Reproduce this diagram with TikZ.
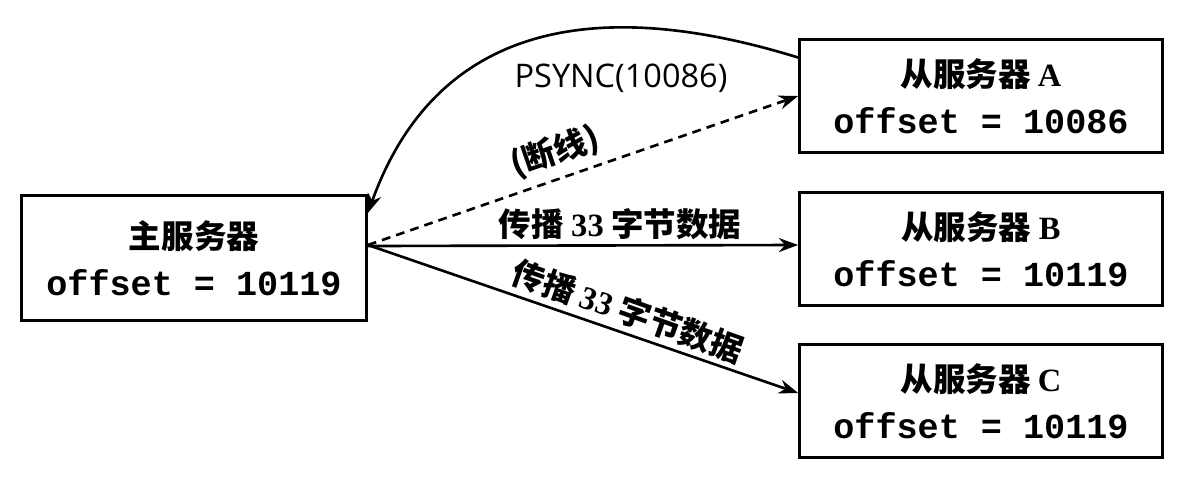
\documentclass[tikz,border=0pt]{standalone}
\usepackage{fontspec}
\usetikzlibrary{arrows.meta}
\setmonofont{Liberation Mono}
\newfontfamily\cjk{Noto Sans CJK SC}
\newfontfamily\psyncfont{Open Sans}
\newfontfamily\serifbf{Liberation Serif}

\begin{document}
\begin{tikzpicture}[x=0.02cm,y=-0.02cm,
    server/.style={draw,line width=1.6pt,inner sep=0pt,align=center,
      minimum width=7.26cm,minimum height=2.26cm,
      font=\fontsize{20}{27}\selectfont},
    msgline/.style={line width=1.5pt,-{Stealth[length=11pt,width=8pt]}},
    msglabel/.style={font=\cjk\bfseries\fontsize{18.5}{22}\selectfont}]
    \useasboundingbox (0,0) rectangle (1184,481);
    %% Draw the servers
    \node[server,minimum width=6.9cm,minimum height=2.5cm] (M) at (194,258)
      {{\cjk\bfseries\fontsize{18.5}{27}\selectfont 主服务器}\\{\ttfamily\bfseries offset = 10119}};
    \node[server] (SA) at (981,96)
      {{\cjk\bfseries\fontsize{18.5}{27}\selectfont 从服务器 {\serifbf\bfseries A}}\\{\ttfamily\bfseries offset = 10086}};
    \node[server] (SB) at (981,249)
      {{\cjk\bfseries\fontsize{18.5}{27}\selectfont 从服务器 {\serifbf\bfseries B}}\\{\ttfamily\bfseries offset = 10119}};
    \node[server] (SC) at (981,401)
      {{\cjk\bfseries\fontsize{18.5}{27}\selectfont 从服务器 {\serifbf\bfseries C}}\\{\ttfamily\bfseries offset = 10119}};
    %% Draw the labels
    \node[font=\psyncfont\fontsize{18.5}{22}\selectfont] (psync) at (621,78) {PSYNC(10086)};
    \node[msglabel,rotate=19] (cut) at (555,152) {(断线)};
    \node[msglabel] (sendB) at (620,224) {传播 {\serifbf 33} 字节数据};
    \node[msglabel,rotate=-19.5] (sendC) at (628,311) {传播 {\serifbf 33} 字节数据};
    %% Draw the edges
    \begin{scope}[every path/.style={msgline}]
      \draw ([yshift=0.77cm]SA.west) .. controls (660,15) and (450,-15) .. ([yshift=0.9cm]M.east);
      \draw[dashed,dash pattern=on 5pt off 3.5pt] ([yshift=0.26cm]M.east) -- (SA.west);
      \draw ([yshift=0.24cm]M.east) -- ([yshift=0.08cm]SB.west);
      \draw ([yshift=0.26cm]M.east) -- ([yshift=0.16cm]SC.west);
    \end{scope}
  \end{tikzpicture}
\end{document}
